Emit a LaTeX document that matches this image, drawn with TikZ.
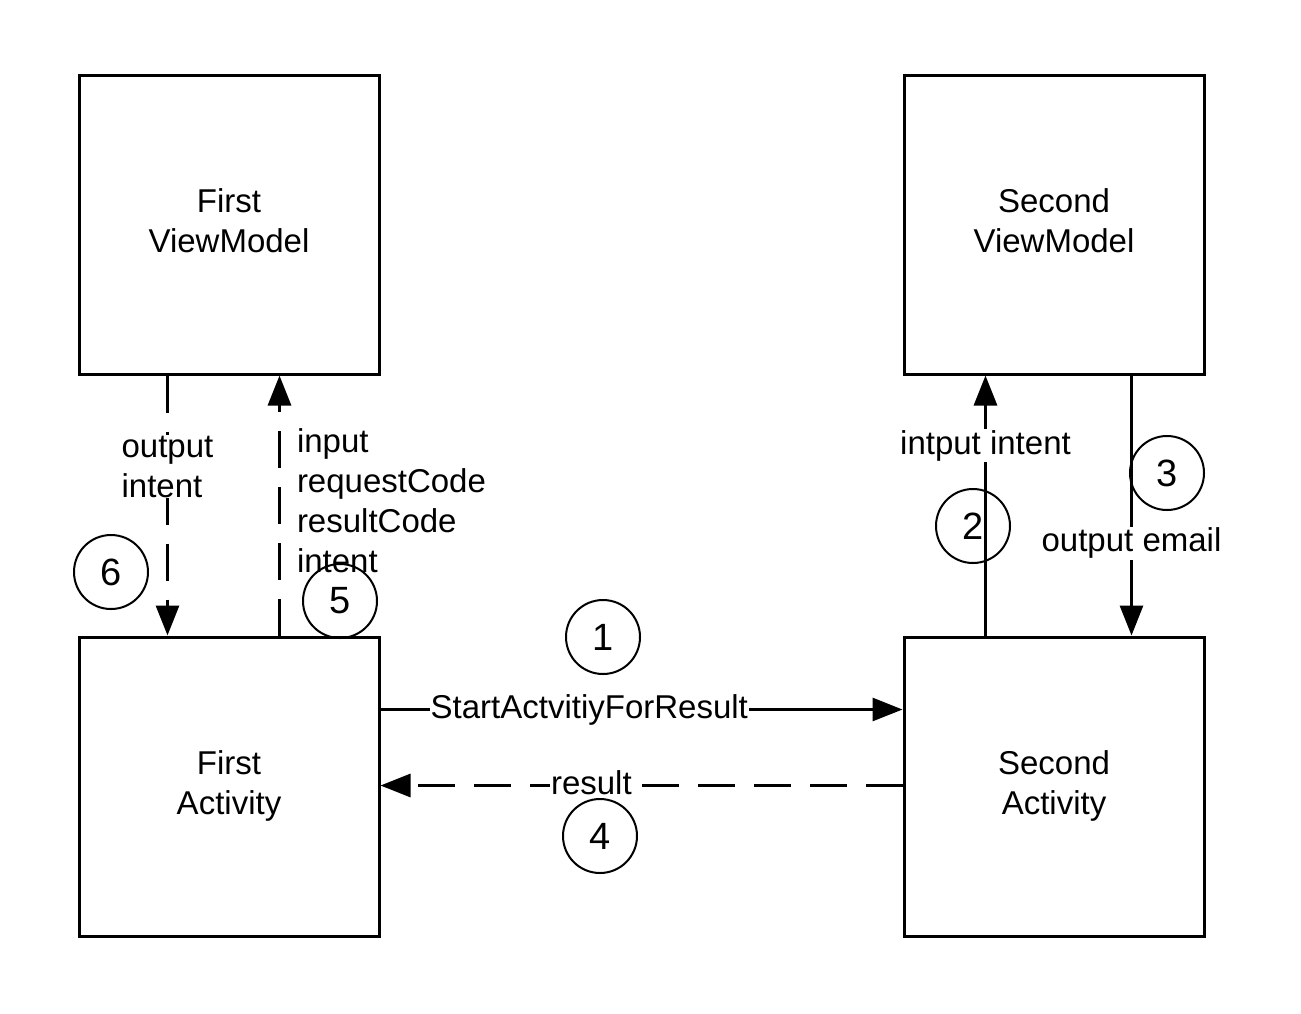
\documentclass[tikz,border=0pt]{standalone}
\usepackage{fontspec}
\setmainfont{Liberation Sans}
\usetikzlibrary{arrows.meta,calc}
\begin{document}
\begin{tikzpicture}[x=1pt,y=-1pt,
  box/.style={draw, line width=3pt, minimum width=300pt, minimum height=299pt, align=center, font=\fontsize{33}{40}\selectfont, inner sep=0pt, text depth=8pt},
  num/.style={draw, circle, line width=2pt, minimum size=74pt, inner sep=0pt, font=\fontsize{38}{40}\selectfont},
  conn/.style={line width=3pt, -{Triangle[length=30pt,width=23pt]}},
  dashconn/.style={conn, dash pattern=on 37pt off 19pt},
  lbl/.style={font=\fontsize{33}{40}\selectfont, inner sep=1pt, align=left},
  lblw/.style={lbl, fill=white}]
\useasboundingbox (0,0) rectangle (1301,1013);
\node[box] (fvm) at (229,224.5) {First\\ViewModel};
\node[box] (svm) at (1054,224.5) {Second\\ViewModel};
\node[box] (fa) at (229,786.5) {First\\Activity};
\node[box] (sa) at (1054,786.5) {Second\\Activity};
\draw[dashconn] ($(fvm.south west)+(90,0)$) -- node[lblw, pos=0.35] {output\\intent} ($(fa.north west)+(90,0)$);
\draw[dashconn] ($(fa.north west)+(202,0)$) -- node[lbl, anchor=west, xshift=15pt, pos=0.52] {input\\requestCode\\resultCode\\intent} ($(fvm.south west)+(202,0)$);
\draw[conn] ($(sa.north west)+(83,0)$) -- node[lblw, pos=0.73] {intput intent} ($(svm.south west)+(83,0)$);
\draw[conn] ($(svm.south west)+(229,0)$) -- node[lblw, pos=0.645] {output email} ($(sa.north west)+(229,0)$);
\draw[conn] ($(fa.north east)+(0,74)$) -- node[lblw, pos=0.4] {StartActvitiyForResult} ($(sa.north west)+(0,74)$);
\draw[dashconn] ($(sa.north west)+(0,150)$) -- node[lblw, pos=0.596, yshift=3pt] {result} ($(fa.north east)+(0,150)$);
\node[num] (c1) at (603,637) {1};
\node[num] (c2) at (973,526) {2};
\node[num] (c3) at (1167,473) {3};
\node[num] (c4) at (600,836) {4};
\node[num] (c5) at (340,601) {5};
\node[num] (c6) at (111,572) {6};
\end{tikzpicture}
\end{document}
